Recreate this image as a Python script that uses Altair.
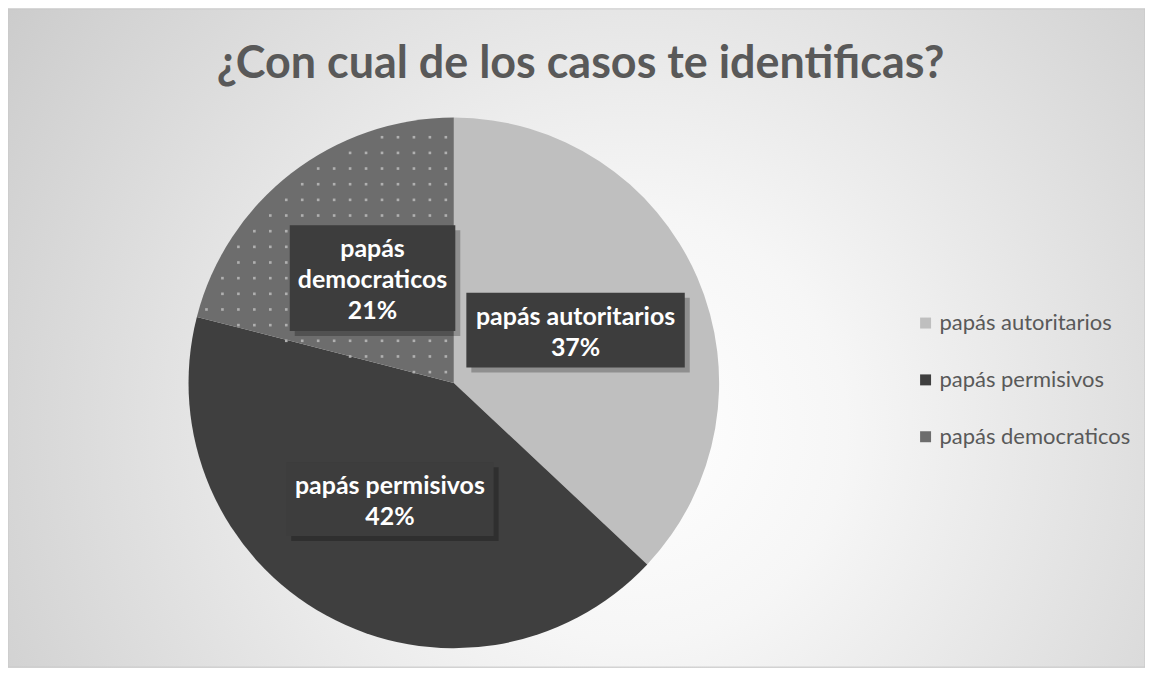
import math
import numpy as np
import pandas as pd
import altair as alt

# ---- data ----
categories = ["papás autoritarios", "papás permisivos", "papás democraticos"]
percent = [37, 42, 21]
wrap_name = [False, False, True]
colors = ["#bfbfbf", "#3f3f3f", "#6d6d6d"]
title_text = "¿Con cual de los casos te identificas?"

# ---- layout (styles) ----
W, H = 1140, 660
CX, CY, R = 447, 375, 266
LABEL_R = 0.5
LINE_H = 31
box_w = [219, 208, 166]
box_h = [75, 74, 106]

rows = []
cum = 0.0
total = float(sum(percent))
for i, (c, p) in enumerate(zip(categories, percent)):
    mid = (cum + p / 2) / total * 2 * math.pi
    cum += p
    lx = CX + LABEL_R * R * math.sin(mid)
    ly = CY - LABEL_R * R * math.cos(mid)
    name = c.replace(" ", "\n") if wrap_name[i] else c
    label = f"{name}\n{p}%"
    nlines = label.count("\n") + 1
    rows.append(dict(cat=c, value=p, order=i, label=label,
                     lx=lx, ly=ly, ty=ly - (nlines - 1) * LINE_H / 2 + 2,
                     bx1=lx - box_w[i] / 2, bx2=lx + box_w[i] / 2,
                     by1=ly - box_h[i] / 2, by2=ly + box_h[i] / 2))
df = pd.DataFrame(rows)

# dotted texture for the "democraticos" slice
start = (percent[0] + percent[1]) / total * 2 * math.pi
pts = []
for gx in np.arange(CX - R, CX + 1, 16.0):
    for gy in np.arange(CY - R, CY + R, 15.7):
        dx, dy = gx - CX, CY - gy
        r = math.hypot(dx, dy)
        if r > R - 4 or r < 2:
            continue
        a = math.atan2(dx, dy) % (2 * math.pi)
        if a > start + 0.01:
            pts.append(dict(px=gx + 2, py=gy + 4))
dots = pd.DataFrame(pts)

xs = alt.Scale(domain=[0, W], range=[0, W], nice=False, zero=False)
ys = alt.Scale(domain=[0, H], range=[0, H], nice=False, zero=False)

bg = alt.Chart(pd.DataFrame({"a": [0]})).mark_rect(
    fill=alt.Gradient(
        gradient="radial", x1=0.55, y1=0.58, r1=0.0, x2=0.55, y2=0.58, r2=0.75,
        stops=[alt.GradientStop(color="#ffffff", offset=0.0),
               alt.GradientStop(color="#f6f6f6", offset=0.25),
               alt.GradientStop(color="#c4c4c4", offset=1.0)]),
    stroke="#c8c8c8", strokeWidth=1,
).encode(x=alt.value(0), x2=alt.value(W), y=alt.value(0), y2=alt.value(H))

pie = alt.Chart(df).mark_arc(outerRadius=R, stroke=None).encode(
    theta=alt.Theta("value:Q", stack=True),
    order=alt.Order("order:Q"),
    color=alt.Color("cat:N",
                    scale=alt.Scale(domain=categories, range=colors),
                    sort=categories,
                    legend=alt.Legend(title=None, orient="none",
                                      legendX=909, legendY=304,
                                      symbolType="square", symbolSize=121,
                                      symbolStrokeWidth=0,
                                      labelFont="Lato", labelFontSize=22,
                                      labelColor="#595959", labelOffset=3,
                                      rowPadding=35, padding=0,
                                      labelLimit=300)),
    x=alt.value(CX), y=alt.value(CY),
)

dot_layer = alt.Chart(dots).mark_square(size=7, color="#b0b0b0", opacity=1,
                                        strokeWidth=0).encode(
    x=alt.X("px:Q", scale=xs, axis=None),
    y=alt.Y("py:Q", scale=ys, axis=None),
)

shadow = alt.Chart(df).transform_calculate(
    sx1="datum.bx1 + 5", sx2="datum.bx2 + 5",
    sy1="datum.by1 + 5", sy2="datum.by2 + 5",
).mark_rect(color="#000000", opacity=0.25).encode(
    x=alt.X("sx1:Q", scale=xs, axis=None), x2="sx2:Q",
    y=alt.Y("sy1:Q", scale=ys, axis=None), y2="sy2:Q",
)

boxes = alt.Chart(df).mark_rect(color="#3d3d3d").encode(
    x=alt.X("bx1:Q", scale=xs, axis=None), x2="bx2:Q",
    y=alt.Y("by1:Q", scale=ys, axis=None), y2="by2:Q",
)

labels = alt.Chart(df).mark_text(
    font="Lato", fontWeight="bold", fontSize=25, color="#ffffff",
    lineBreak="\n", lineHeight=LINE_H, align="center", baseline="middle",
).encode(
    x=alt.X("lx:Q", scale=xs, axis=None),
    y=alt.Y("ty:Q", scale=ys, axis=None),
    text="label:N",
)

title = alt.Chart(pd.DataFrame({"t": [title_text]})).mark_text(
    font="Lato", fontWeight="bold", fontSize=45, color="#595959",
    align="center", baseline="middle",
).encode(x=alt.value(574), y=alt.value(55), text="t:N")

chart = alt.layer(bg, pie, dot_layer, shadow, boxes, labels, title).properties(
    width=W, height=H, padding=0, autosize=alt.AutoSizeParams(type="none"),
).configure_view(strokeWidth=0).configure(background="#ffffff")

chart.save("out.html", embed_options={"renderer": "svg", "actions": False})
